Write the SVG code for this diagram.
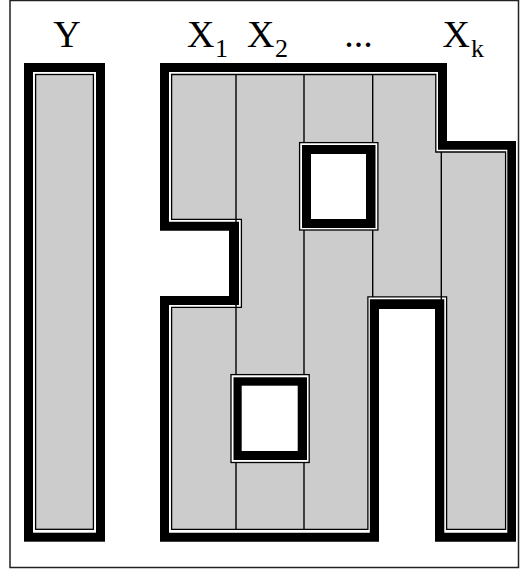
<svg xmlns="http://www.w3.org/2000/svg" width="520" height="569" viewBox="0 0 520 569">
<style>
.lbl{font-family:"Liberation Serif","Times New Roman",serif;font-size:38px;fill:#000}
.sub{font-size:26px}
.blk{fill:#000}
.wht{fill:#fff}
.cell{fill:#cccccc;stroke:#000;stroke-width:1.3}
.div{stroke:#000;stroke-width:1.4;fill:none}
.ring{fill:#fff;stroke:#000;stroke-width:1.3}
</style>
<rect x="0" y="0" width="520" height="569" fill="#fff"/>
<rect x="10" y="0.5" width="508.5" height="567" fill="none" stroke="#222" stroke-width="1.5"/>

<g id="labels">
<text class="lbl" x="67" y="47" text-anchor="middle">Y</text>
<text class="lbl" x="187" y="47">X<tspan class="sub" x="215" y="57">1</tspan></text>
<text class="lbl" x="247" y="47">X<tspan class="sub" x="275" y="57">2</tspan></text>
<text class="lbl" x="344.3" y="47">...</text>
<text class="lbl" x="442.5" y="47">X<tspan class="sub" x="471" y="57">k</tspan></text>
</g>

<g id="Y">
<rect class="blk" x="24" y="63" width="81" height="478.7"/>
<rect class="wht" x="33" y="72" width="63" height="460.7"/>
<rect class="cell" x="35.6" y="74.5" width="57.8" height="454.8"/>
</g>

<g id="X">
<polygon class="blk" points="160,63 447,63 447,141 516,141 516,541.7 435,541.7 435,309 379,309 379,541.7 160,541.7 160,296 229,296 229,230.7 160,230.7"/>
<polygon class="wht" points="169,72 438,72 438,149.7 507.3,149.7 507.3,532.7 444.3,532.7 444.3,299.3 369.8,299.3 369.8,532.7 169,532.7 169,305 239,305 239,221.7 169,221.7"/>
<polygon class="cell" points="171.6,74.5 435.8,74.5 435.8,152 505.6,152 505.6,529.4 446.6,529.4 446.6,296.9 367.9,296.9 367.9,529.4 171.6,529.4 171.6,307.4 241.4,307.4 241.4,219.4 171.6,219.4"/>
</g>

<g id="connectors">
<line class="div" x1="236" y1="74.5" x2="236" y2="529.4"/>
<line class="div" x1="304" y1="74.5" x2="304" y2="529.4"/>
<line class="div" x1="372.7" y1="74.5" x2="372.7" y2="296.9"/>
<line class="div" x1="441.3" y1="152" x2="441.3" y2="529.4"/>
</g>

<g id="hole1">
<rect class="ring" x="299.6" y="142.6" width="78.3" height="87.4"/>
<rect class="blk" x="302" y="145" width="73.5" height="83"/>
<rect class="wht" x="311" y="154" width="55" height="65"/>
</g>

<g id="hole2">
<rect class="ring" x="231" y="374.6" width="78.2" height="87.9"/>
<rect class="blk" x="233.5" y="377.3" width="73.5" height="82.7"/>
<rect class="wht" x="241.7" y="385.7" width="56" height="65.3"/>
</g>
</svg>
